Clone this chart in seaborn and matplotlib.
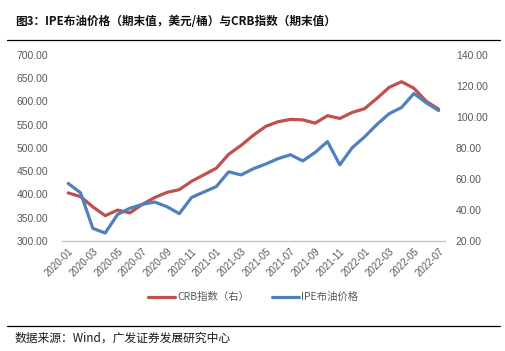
import numpy as np
import pandas as pd
import matplotlib
matplotlib.use("Agg")
import matplotlib.pyplot as plt
import seaborn as sns

# monthly, end-of-period values
months = pd.period_range("2020-01", "2022-07", freq="M").strftime("%Y-%m").tolist()
crb = [403, 395, 373, 354, 366, 360, 378, 393, 404, 410, 428, 442, 456, 486, 505, 527,
       546, 556, 561, 560, 553, 569, 563, 576, 584, 606, 630, 642, 628, 600, 583]
ipe = [57, 51, 28, 25, 37, 41, 43.5, 45, 42, 37.5, 48, 51.5, 55, 64.5, 62.5, 66.5,
       69.5, 73, 75.5, 71.5, 77, 84, 69, 80, 87, 95, 102, 106, 115, 109, 104]

left_ticks = [300, 350, 400, 450, 500, 550, 600, 650, 700]
right_ticks = [20, 40, 60, 80, 100, 120, 140]

RED = "#C0504D"
BLUE = "#4F81BD"
GREY = "#595959"
LATIN = ["Liberation Sans", "Noto Sans CJK SC"]
CJK = ["Noto Sans CJK SC", "Liberation Sans"]

df = pd.DataFrame({"idx": np.arange(len(months)), "month": months, "crb": crb, "ipe": ipe})

sns.set_style("white")
plt.rcParams["font.family"] = LATIN

fig = plt.figure(figsize=(5.06, 3.51), dpi=100)
ax = fig.add_axes([0.1225, 0.314, 0.7565, 0.530])
ax2 = ax.twinx()

sns.lineplot(data=df, x="idx", y="crb", ax=ax, color=RED, linewidth=2.3,
             label="CRB指数（右）", legend=False)
sns.lineplot(data=df, x="idx", y="ipe", ax=ax2, color=BLUE, linewidth=2.3,
             label="IPE布油价格", legend=False)
for line in ax.lines + ax2.lines:
    line.set_solid_joinstyle("round")
    line.set_solid_capstyle("round")

ax.set_xlim(-0.5, len(months) - 0.5)
ax.set_ylim(300, 700)
ax2.set_ylim(20, 140)
ax.set_yticks(left_ticks)
ax.set_yticklabels([f"{v:.2f}" for v in left_ticks])
ax2.set_yticks(right_ticks)
ax2.set_yticklabels([f"{v:.2f}" for v in right_ticks])

pos = df["idx"].values[::2]
ax.set_xticks(pos)
ax.set_xticklabels(df["month"].values[::2], rotation=45, ha="right",
                   rotation_mode="anchor")
ax.set_xticks(np.arange(-0.5, len(months), 2), minor=True)
ax.tick_params(axis="x", which="major", length=0, pad=4, labelsize=7, colors=GREY)
ax.tick_params(axis="x", which="minor", length=3, width=0.8, color="#BFBFBF")
ax.tick_params(axis="y", length=0, labelsize=7.5, colors=GREY, pad=10)
ax2.tick_params(axis="y", length=0, labelsize=7.5, colors=GREY, pad=8)
ax.set_xlabel("")
ax.set_ylabel("")
ax2.set_ylabel("")

for a in (ax, ax2):
    for s in ("top", "left", "right"):
        a.spines[s].set_visible(False)
    a.spines["bottom"].set_color("#BFBFBF")
    a.spines["bottom"].set_linewidth(0.8)
    a.grid(False)

handles = ax.lines[:1] + ax2.lines[:1]
leg = fig.legend(handles, ["CRB指数（右）", "IPE布油价格"], loc="center",
                 bbox_to_anchor=(0.5, 0.153), ncol=2, frameon=False,
                 handlelength=2.6, columnspacing=2.2, handletextpad=0.2,
                 prop={"family": CJK, "size": 7.5})
for t in leg.get_texts():
    t.set_color(GREY)

fig.text(0.03, 0.94, "图3：IPE布油价格（期末值，美元/桶）与CRB指数（期末值）",
         ha="left", va="center", fontsize=8.4, fontweight="heavy",
         family=CJK, color="#111111")
fig.add_artist(plt.Line2D([0.014, 0.988], [0.885, 0.885], color="black", linewidth=0.9))
fig.add_artist(plt.Line2D([0.014, 0.988], [0.071, 0.071], color="black", linewidth=0.9))
fig.text(0.028, 0.038, "数据来源：Wind，广发证券发展研究中心", ha="left", va="center",
         fontsize=8.5, family=CJK, color="#1a1a1a")

fig.savefig("out.png", dpi=100)
